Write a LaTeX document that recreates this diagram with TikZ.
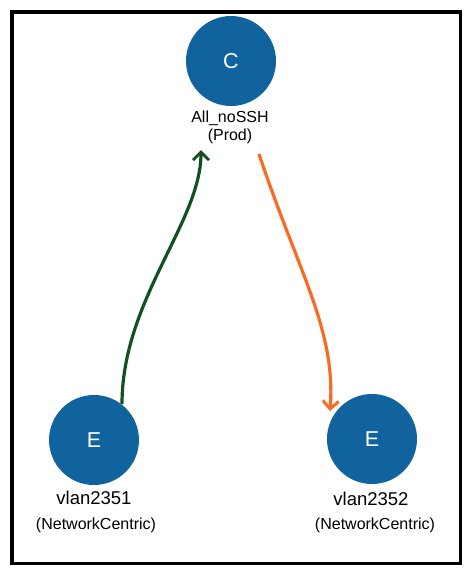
\documentclass[tikz,border=0pt]{standalone}
\usepackage{fontspec}
\setmainfont{Liberation Sans}
\usetikzlibrary{arrows.meta}
\definecolor{nodeblue}{HTML}{10639C}
\definecolor{linkgreen}{HTML}{11501F}
\definecolor{linkorange}{HTML}{F96A22}
\tikzset{
  vnode/.style={circle, fill=nodeblue, minimum size=88pt, inner sep=0pt, text=white, font=\fontsize{21.5}{21.5}\selectfont},
  toplabel/.style={align=center, font=\fontsize{16}{18}\selectfont, inner sep=0pt},
  namelabel/.style={font=\fontsize{18.5}{18.5}\selectfont, inner sep=0pt},
  typelabel/.style={font=\fontsize{16}{16}\selectfont, inner sep=0pt},
  link/.style={line width=3.2pt, -{Straight Barb[length=8pt,width=16pt,line width=3pt]}},
}
\begin{document}
\begin{tikzpicture}[x=1pt,y=-1pt]
\useasboundingbox (0,0) rectangle (471,574);
\draw[line width=3.5pt] (11.75,11.75) rectangle (460.25,563.25);
\node[vnode, minimum width=90pt, minimum height=87pt] (c) at (231,61) {C};
\node[toplabel] (clabel) at (230,127) {All\_noSSH\\(Prod)};
\node[vnode, minimum width=90pt, minimum height=86pt] (e1) at (94,440) {E};
\node[namelabel] (e1name) at (94,498) {vlan2351};
\node[typelabel] (e1type) at (96,525) {(NetworkCentric)};
\node[vnode, minimum width=90pt, minimum height=85pt] (e2) at (372,439) {E};
\node[namelabel] (e2name) at (371,499) {vlan2352};
\node[typelabel] (e2type) at (375,525) {(NetworkCentric)};
\coordinate (gs) at (122,404);
\coordinate (ge) at (201,150);
\coordinate (os) at (259,154);
\coordinate (oe) at (330,411);
\draw[link, linkgreen] (gs) .. controls (122,300) and (201,222) .. (ge);
\draw[link, linkorange] (os) .. controls (299,274) and (336,330) .. (oe);
\end{tikzpicture}
\end{document}
